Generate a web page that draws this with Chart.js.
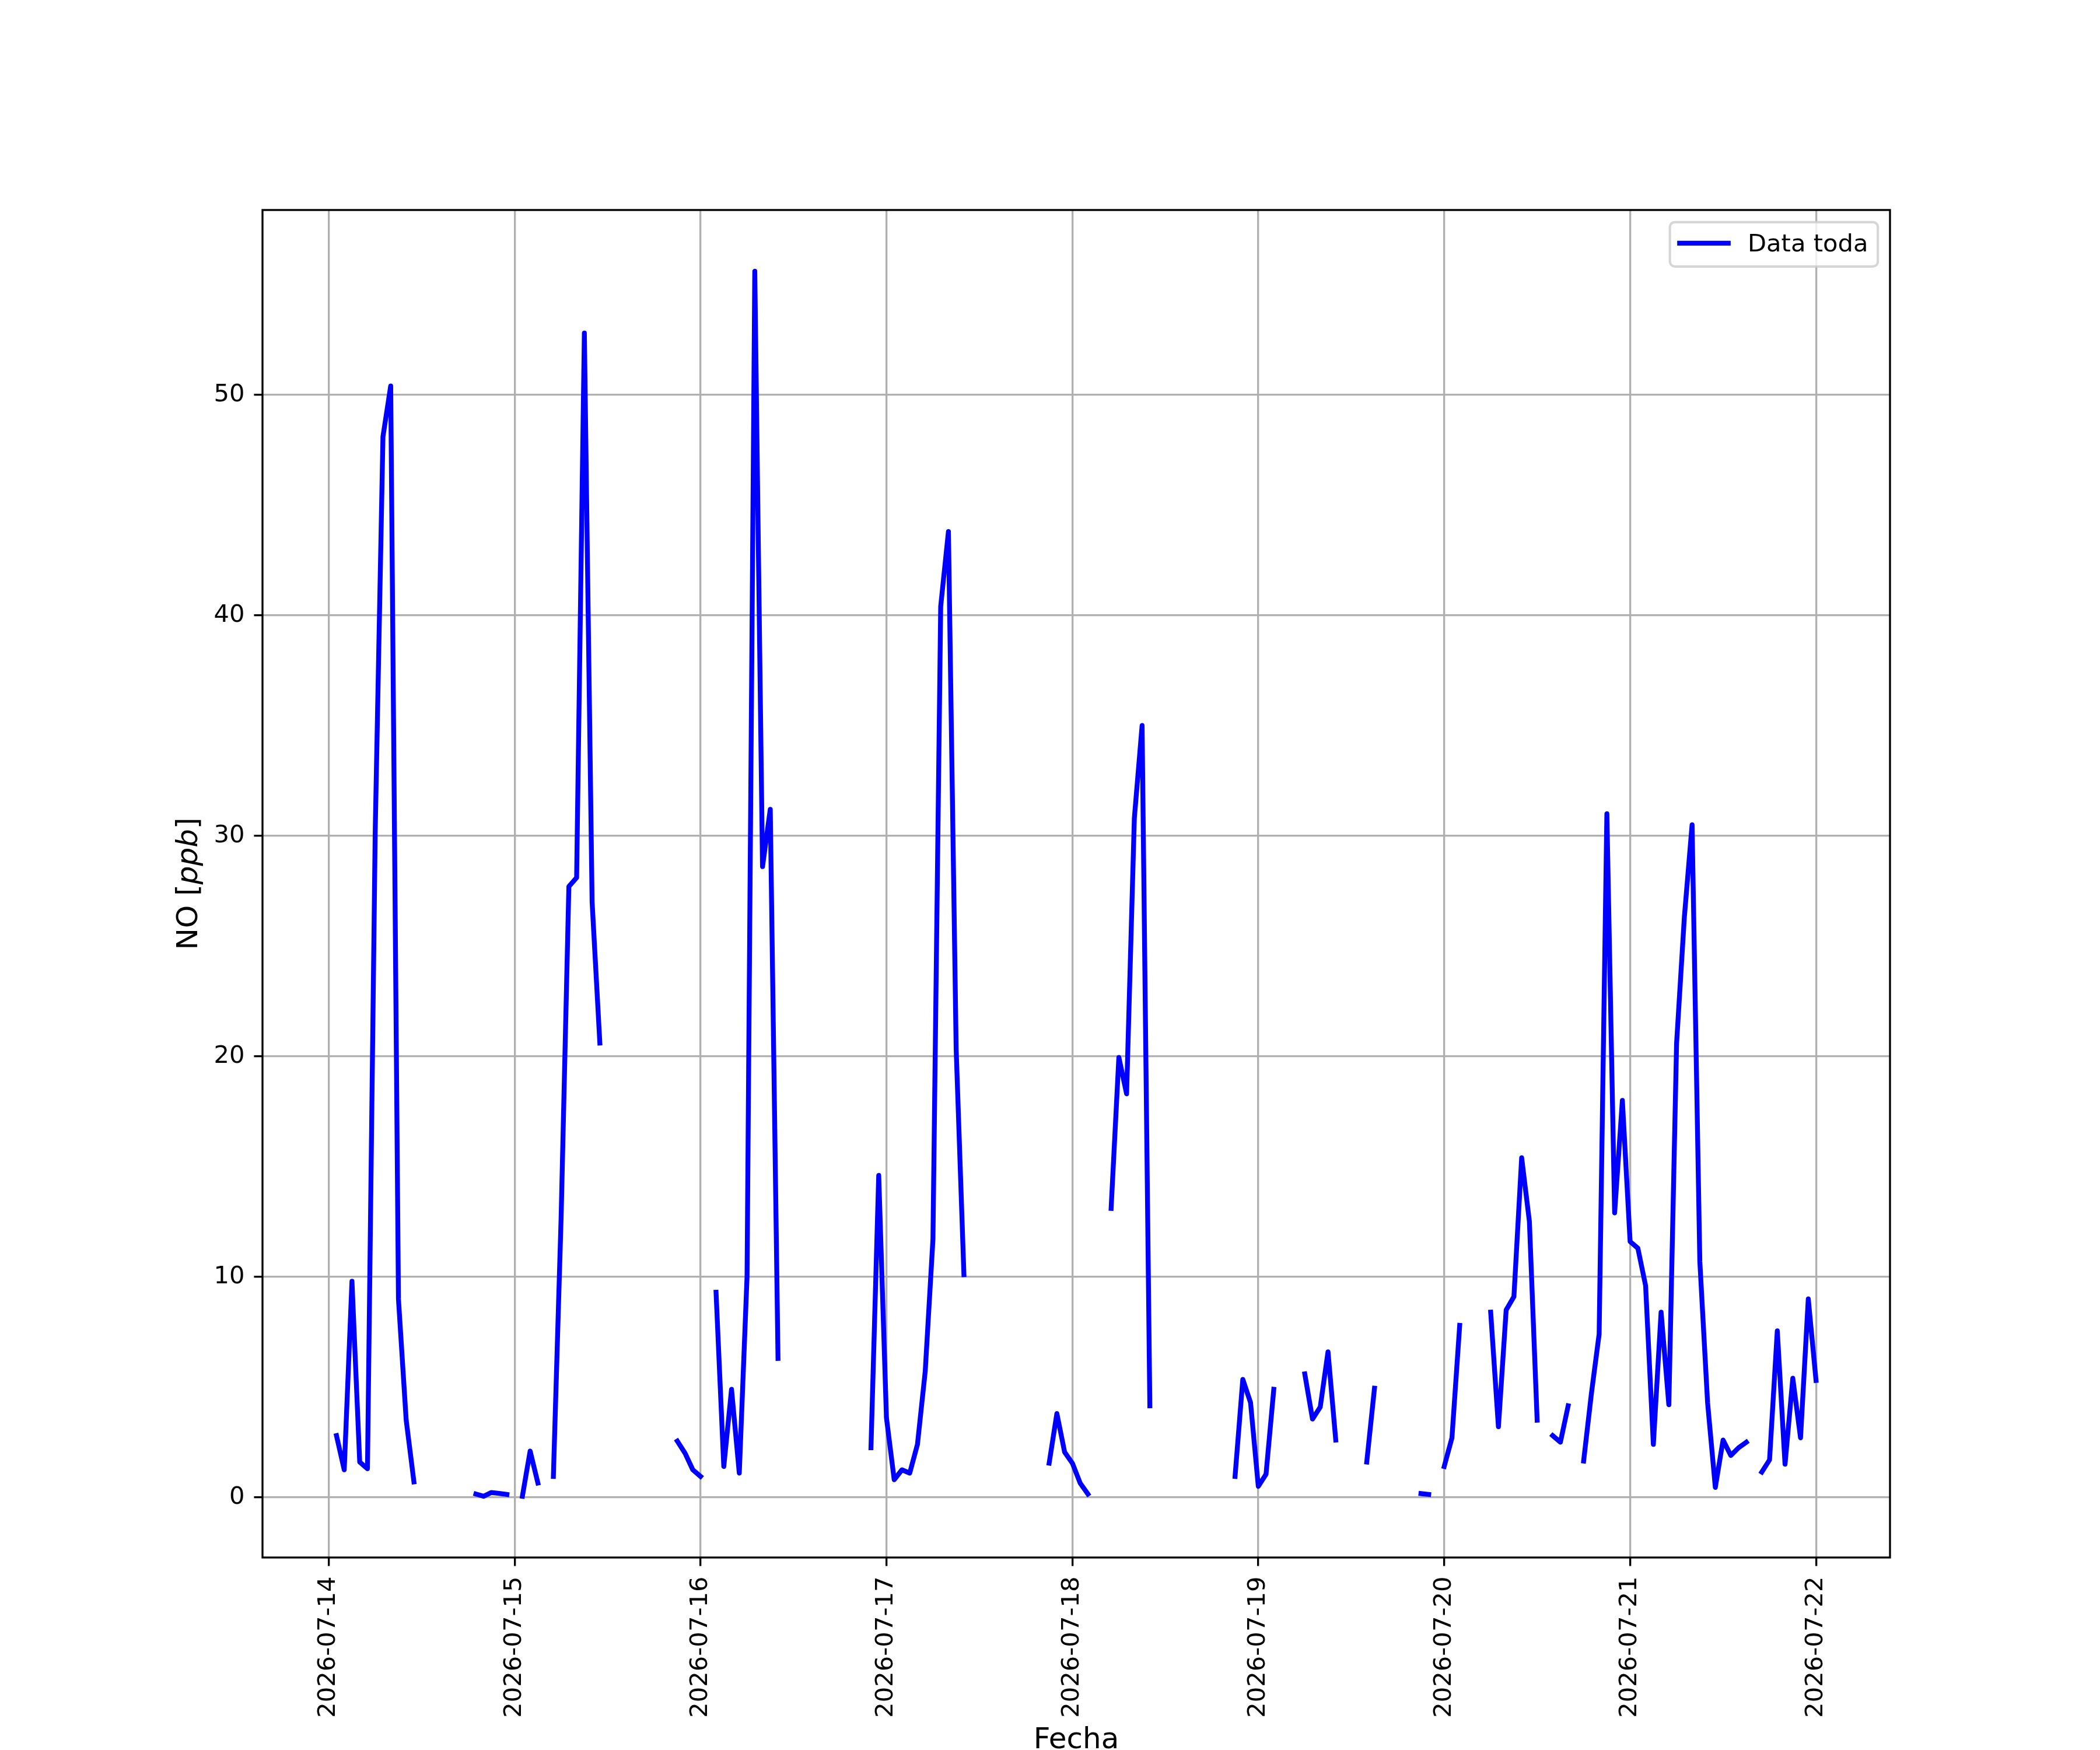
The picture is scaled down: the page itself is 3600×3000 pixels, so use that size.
<!DOCTYPE html>
<html lang="es">
<head>
    <meta charset="UTF-8">
    <title>NO [ppb]</title>
    <script src="https://cdn.jsdelivr.net/npm/chart.js"></script>
    <style>
        html, body {
            margin: 0;
            padding: 0;
            background-color: #fff;
        }

        #wrap {
            width: 3600px;
            height: 3000px;
        }
    </style>
</head>
<body>
    <div id="wrap"><canvas id="chart" width="3600" height="3000"></canvas></div>

    <script>
        // Fechas del eje x (una marca por dia)
        const dayLabels = ['2026-07-14', '2026-07-15', '2026-07-16', '2026-07-17', '2026-07-18',
                           '2026-07-19', '2026-07-20', '2026-07-21', '2026-07-22'];

        // NO [ppb] horario, indice = hora del dia, null = sin dato
        const no_0714 = [null, 2.8, 1.25, 9.8, 1.6, 1.3, 30.2, 48.1, 50.4, 9.0, 3.5, 0.7,
                         null, null, null, null, null, null, null, 0.15, 0.05, 0.22, 0.18, 0.13];
        const no_0715 = [null, 0.05, 2.1, 0.65, null, 0.95, 12.7, 27.7, 28.1, 52.8, 27.0, 20.6,
                         null, null, null, null, null, null, null, null, null, 2.55, 2.0, 1.25];
        const no_0716 = [0.95, null, 9.3, 1.4, 4.9, 1.1, 10.0, 55.6, 28.6, 31.2, 6.3, null,
                         null, null, null, null, null, null, null, null, null, null, 2.25, 14.6];
        const no_0717 = [3.6, 0.8, 1.25, 1.1, 2.4, 5.7, 11.7, 40.4, 43.8, 20.3, 10.1, null,
                         null, null, null, null, null, null, null, null, null, 1.55, 3.8, 2.05];
        const no_0718 = [1.55, 0.65, 0.15, null, null, 13.1, 19.95, 18.3, 30.8, 35.0, 4.15, null,
                         null, null, null, null, null, null, null, null, null, 0.95, 5.35, 4.3];
        const no_0719 = [0.5, 1.05, 4.9, null, null, null, 5.6, 3.55, 4.1, 6.6, 2.6, null,
                         null, null, 1.6, 4.95, null, null, null, null, null, 0.17, 0.13, null];
        const no_0720 = [1.4, 2.7, 7.8, null, null, null, 8.4, 3.2, 8.5, 9.1, 15.4, 12.5,
                         3.5, null, 2.8, 2.5, 4.15, null, 1.65, 4.7, 7.4, 31.0, 12.9, 18.0];
        const no_0721 = [11.6, 11.3, 9.6, 2.4, 8.4, 4.2, 20.6, 26.3, 30.5, 10.7, 4.3, 0.45,
                         2.6, 1.9, 2.25, 2.5, null, 1.15, 1.7, 7.55, 1.5, 5.4, 2.7, 9.0];
        const no_0722 = [5.3];

        const yTicks = [0, 10, 20, 30, 40, 50];
        const seriesLabel = 'Data toda';

        // puntos {x: horas desde 2026-07-14 00:00, y: NO}
        const allDays = [no_0714, no_0715, no_0716, no_0717, no_0718, no_0719, no_0720, no_0721, no_0722];
        const points = [];
        allDays.forEach((vals, d) => {
            vals.forEach((v, h) => points.push({ x: d * 24 + h, y: v }));
        });

        // limites con 5% de margen, como matplotlib
        const valid = points.filter(p => p.y !== null);
        const xs = valid.map(p => p.x), ys = valid.map(p => p.y);
        const xMin = Math.min(...xs), xMax = Math.max(...xs);
        const yMin = Math.min(...ys), yMax = Math.max(...ys);
        const xPad = (xMax - xMin) * 0.05, yPad = (yMax - yMin) * 0.05;

        const PT = 300 / 72;
        const FONT = "'DejaVu Sans', sans-serif";
        const tickFont = { family: FONT, size: 10 * PT };

        Chart.defaults.font.family = FONT;
        Chart.defaults.color = '#000';

        // marco, titulos de ejes y leyenda al estilo matplotlib
        const mplExtras = {
            id: 'mplExtras',
            afterDatasetsDraw(chart) {
                const { ctx, chartArea: a } = chart;
                ctx.save();
                ctx.strokeStyle = '#000';
                ctx.lineWidth = 0.8 * PT;
                ctx.strokeRect(a.left, a.top, a.right - a.left, a.bottom - a.top);
                ctx.restore();
            },
            afterDraw(chart) {
                const { ctx, chartArea: a } = chart;
                const big = 12 * PT, small = 10 * PT;

                // titulo eje x
                ctx.save();
                ctx.fillStyle = '#000';
                ctx.font = `${big}px ${FONT}`;
                ctx.textAlign = 'center';
                ctx.textBaseline = 'alphabetic';
                ctx.fillText('Fecha', (a.left + a.right) / 2, 2997);
                ctx.restore();

                // titulo eje y: NO [ppb] con ppb en italica
                ctx.save();
                ctx.fillStyle = '#000';
                ctx.translate(a.left - 112, (a.top + a.bottom) / 2);
                ctx.rotate(-Math.PI / 2);
                ctx.textAlign = 'left';
                ctx.textBaseline = 'alphabetic';
                const parts = [['NO [', 'normal'], ['ppb', 'italic'], [']', 'normal']];
                let total = 0;
                parts.forEach(([t, s]) => {
                    ctx.font = `${s} ${big}px ${FONT}`;
                    total += ctx.measureText(t).width;
                });
                let tx = -total / 2;
                parts.forEach(([t, s]) => {
                    ctx.font = `${s} ${big}px ${FONT}`;
                    ctx.fillText(t, tx, 0);
                    tx += ctx.measureText(t).width;
                });
                ctx.restore();

                // leyenda
                ctx.save();
                ctx.font = `${small}px ${FONT}`;
                const textW = ctx.measureText(seriesLabel).width;
                const pad = 0.4 * small, handle = 2.0 * small, gap = 0.8 * small;
                const boxW = pad + handle + gap + textW + pad;
                const boxH = 76;
                const bx = a.right - 0.5 * small - boxW;
                const by = a.top + 0.5 * small;
                const r = 0.2 * small;
                ctx.beginPath();
                ctx.roundRect(bx, by, boxW, boxH, r);
                ctx.fillStyle = 'rgba(255,255,255,0.8)';
                ctx.fill();
                ctx.lineWidth = 1.0 * PT;
                ctx.strokeStyle = 'rgba(204,204,204,0.8)';
                ctx.stroke();

                const ly = by + boxH / 2 - 2;
                ctx.beginPath();
                ctx.moveTo(bx + pad, ly);
                ctx.lineTo(bx + pad + handle, ly);
                ctx.strokeStyle = '#0000ff';
                ctx.lineWidth = 2 * PT;
                ctx.lineCap = 'square';
                ctx.stroke();

                ctx.fillStyle = '#000';
                ctx.textAlign = 'left';
                ctx.textBaseline = 'alphabetic';
                ctx.fillText(seriesLabel, bx + pad + handle + gap, by + 50);
                ctx.restore();
            }
        };

        const gridOpts = {
            color: '#b0b0b0',
            lineWidth: 0.8 * PT,
            tickLength: 3.5 * PT,
            tickColor: '#000',
            tickWidth: 0.8 * PT,
            drawOnChartArea: true
        };

        new Chart(document.getElementById('chart').getContext('2d'), {
            type: 'line',
            data: {
                datasets: [{
                    label: seriesLabel,
                    data: points,
                    borderColor: '#0000ff',
                    backgroundColor: '#0000ff',
                    borderWidth: 2 * PT,
                    borderCapStyle: 'square',
                    borderJoinStyle: 'round',
                    pointRadius: 0,
                    pointHoverRadius: 0,
                    tension: 0,
                    spanGaps: false,
                    fill: false
                }]
            },
            options: {
                responsive: false,
                devicePixelRatio: 1,
                animation: false,
                events: [],
                layout: { padding: { left: 0, right: 360, top: 360, bottom: 0 } },
                plugins: {
                    legend: { display: false },
                    tooltip: { enabled: false }
                },
                scales: {
                    x: {
                        type: 'linear',
                        min: xMin - xPad,
                        max: xMax + xPad,
                        grid: gridOpts,
                        border: { display: false },
                        afterBuildTicks: scale => {
                            scale.ticks = dayLabels.map((_, i) => ({ value: i * 24 }));
                        },
                        afterFit: scale => { scale.height = 330; },
                        ticks: {
                            font: tickFont,
                            color: '#000',
                            padding: 18,
                            minRotation: 90,
                            maxRotation: 90,
                            autoSkip: false,
                            callback: value => dayLabels[Math.round(value / 24)]
                        }
                    },
                    y: {
                        type: 'linear',
                        min: yMin - yPad,
                        max: yMax + yPad,
                        grid: gridOpts,
                        border: { display: false },
                        afterBuildTicks: scale => {
                            scale.ticks = yTicks.map(v => ({ value: v }));
                        },
                        afterFit: scale => { scale.width = 450; },
                        ticks: {
                            font: tickFont,
                            color: '#000',
                            padding: 16,
                            callback: value => String(value)
                        }
                    }
                }
            },
            plugins: [mplExtras]
        });
    </script>
</body>
</html>
